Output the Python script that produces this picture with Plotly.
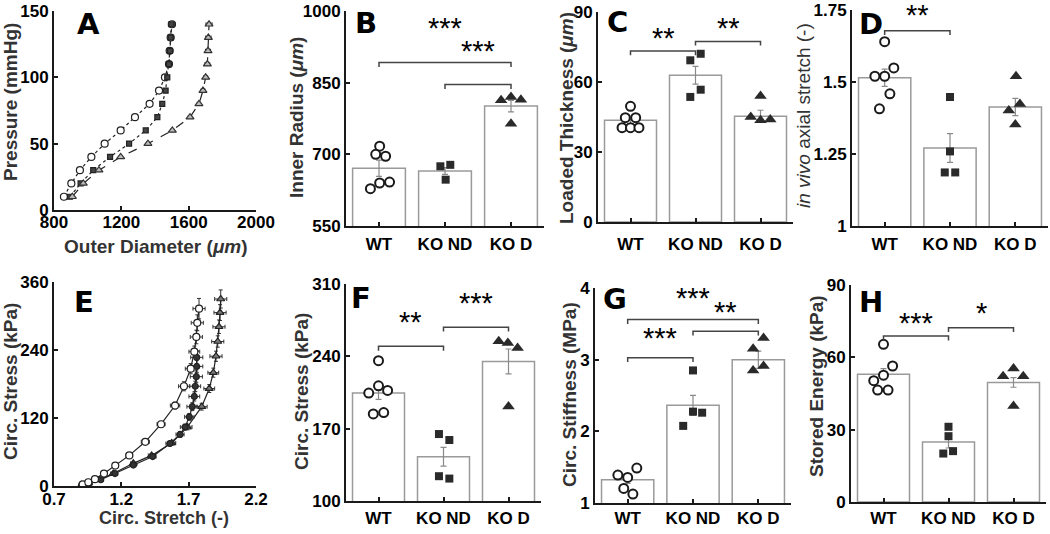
import plotly.graph_objects as go

W, H = 1050, 534
FONT = "Liberation Sans, Arial, sans-serif"

# ---------------- Panel A : pressure vs outer diameter ----------------
pressure = [10, 20, 30, 40, 50, 60, 70, 80, 90, 100, 110, 120, 130, 140]
od_wt = [859, 903, 954, 1022, 1101, 1196, 1281, 1368, 1424, 1459, 1483, 1487, 1493, 1501]
od_kond = [895, 958, 1033, 1133, 1246, 1345, 1414, 1443, 1463, 1473, 1483, 1489, 1493, 1497]
od_kod = [909, 974, 1067, 1196, 1358, 1503, 1608, 1661, 1685, 1701, 1711, 1715, 1717, 1721]
od_err_wt = [5, 5, 6, 6, 8, 8, 10, 10, 12, 15, 15, 18, 18, 20]
od_err_kond = [4, 4, 5, 5, 6, 8, 8, 10, 10, 12, 14, 15, 16, 18]
od_err_kod = [4, 5, 5, 6, 8, 8, 10, 10, 12, 12, 14, 15, 16, 18]

# ---------------- Panel E : circ. stress vs circ. stretch ----------------
stretch_wt = [0.913, 0.955, 1.004, 1.071, 1.155, 1.259, 1.378, 1.495, 1.599, 1.665, 1.715, 1.742, 1.757, 1.764, 1.777]
stress_wt = [3, 6.6, 12, 22, 36, 54, 78, 109, 142, 176, 207, 237, 263, 288, 313]
stretch_err_wt = [0.01, 0.01, 0.015, 0.02, 0.02, 0.025, 0.03, 0.03, 0.035, 0.04, 0.04, 0.04, 0.045, 0.045, 0.045]
stress_err_wt = [1, 1, 1, 2, 2, 3, 4, 5, 6, 8, 9, 10, 12, 14, 18]

stretch_kond = [0.906, 0.962, 1.047, 1.153, 1.289, 1.433, 1.561, 1.636, 1.673, 1.705, 1.727, 1.742, 1.749, 1.757, 1.760, 1.760]
stress_kond = [2, 5, 11, 22, 37, 52, 75, 91, 104, 122, 140, 158, 176, 193, 211, 227]
stretch_err_kond = [0.01, 0.01, 0.015, 0.02, 0.02, 0.025, 0.03, 0.03, 0.035, 0.035, 0.04, 0.04, 0.04, 0.045, 0.045, 0.045]
stress_err_kond = [1, 1, 1, 2, 2, 3, 4, 5, 5, 6, 7, 8, 9, 10, 11, 12]

stretch_kod = [0.906, 0.955, 1.036, 1.140, 1.289, 1.425, 1.574, 1.690, 1.797, 1.853, 1.883, 1.903, 1.916, 1.925, 1.933, 1.938]
stress_kod = [2, 5, 11, 22, 40, 54, 76, 104, 140, 172, 200, 229, 255, 281, 306, 330]
stretch_err_kod = [0.01, 0.01, 0.015, 0.02, 0.02, 0.025, 0.03, 0.035, 0.04, 0.04, 0.04, 0.045, 0.045, 0.045, 0.045, 0.045]
stress_err_kod = [1, 1, 1, 2, 2, 3, 4, 5, 6, 7, 8, 9, 10, 12, 14, 16]

# ---------------- Bar panels ----------------
groups = ["WT", "KO ND", "KO D"]

# B: inner radius
b_mean = [671, 665, 801]
b_se = [17, 7, 12]
b_wt = [717, 700, 696, 628, 640, 642]
b_wt_jit = [0.01, -0.05, 0.10, -0.13, 0.01, 0.16]
b_kond = [675, 678, 647]
b_kond_jit = [-0.07, 0.08, 0.01]
b_kod = [813, 820, 814, 764]
b_kod_jit = [-0.15, 0.0, 0.15, 0.0]
b_brackets = [(1, 3, 892, "***", 977), (2, 3, 846, "***", 928)]

# C: loaded thickness
c_mean = [43.6, 62.9, 45.3]
c_se = [1.4, 3.8, 2.6]
c_wt = [40.4, 40.4, 40.4, 44.7, 44.7, 49.6]
c_wt_jit = [-0.13, 0.0, 0.13, -0.08, 0.08, 0.0]
c_kond = [69.3, 72.1, 53.6, 56.7]
c_kond_jit = [-0.08, 0.08, -0.08, 0.08]
c_kod = [54.0, 45.0, 43.6, 43.9]
c_kod_jit = [0.0, -0.15, 0.0, 0.15]
c_brackets = [(1, 2, 73.3, "**", 81.4), (2, 3, 77.4, "**", 85.7)]

# D: in vivo axial stretch
d_mean = [1.515, 1.271, 1.413]
d_se = [0.03, 0.05, 0.03]
d_wt = [1.640, 1.549, 1.520, 1.520, 1.459, 1.407]
d_wt_jit = [0.0, 0.14, 0.0, -0.15, 0.08, -0.08]
d_kond = [1.448, 1.259, 1.186, 1.186]
d_kond_jit = [0.0, 0.0, -0.08, 0.08]
d_kod = [1.520, 1.401, 1.424, 1.352]
d_kod_jit = [0.01, -0.1, 0.07, 0.0]
d_brackets = [(1, 2, 1.678, "**", 1.752)]

# F: circ. stress
f_mean = [204.4, 142.8, 235.1]
f_se = [6, 9, 12]
f_wt = [235.8, 211.5, 204.4, 207.0, 184.3, 185.6]
f_wt_jit = [0.0, 0.0, -0.15, 0.14, -0.08, 0.08]
f_kond = [164.8, 159.0, 124.0, 121.7]
f_kond_jit = [-0.07, 0.09, -0.07, 0.09]
f_kod = [254.6, 253.0, 248.0, 191.4]
f_kod_jit = [-0.15, -0.01, 0.14, 0.0]
f_brackets = [(1, 2, 249.7, "**", 278.9), (2, 3, 268.2, "***", 297.7)]

# G: circ. stiffness
g_mean = [1.325, 2.363, 3.0]
g_se = [0.05, 0.14, 0.12]
g_wt = [1.39, 1.357, 1.487, 1.204, 1.125]
g_wt_jit = [-0.15, 0.0, 0.14, -0.06, 0.08]
g_kond = [2.85, 2.275, 2.26, 2.076]
g_kond_jit = [0.0, 0.0, 0.14, -0.15]
g_kod = [3.304, 3.151, 2.91, 2.85]
g_kod_jit = [0.08, -0.08, 0.08, -0.08]
g_brackets = [(1, 2, 3.026, "***", 3.383), (2, 3, 3.397, "**", 3.745), (1, 3, 3.559, "***", 3.944)]

# H: stored energy
h_mean = [53.0, 24.9, 49.6]
h_se = [2.3, 2.5, 2.0]
h_wt = [65.4, 56.4, 52.6, 50.3, 46.4, 46.4]
h_wt_jit = [0.0, 0.14, 0.0, -0.15, -0.09, 0.07]
h_kond = [31.2, 27.3, 20.1, 21.1]
h_kond_jit = [0.0, 0.0, -0.08, 0.07]
h_kod = [55.4, 52.2, 52.2, 39.8]
h_kod_jit = [0.0, -0.16, 0.15, 0.0]
h_brackets = [(1, 2, 68.8, "***", 76.6), (2, 3, 72.3, "*", 81.0)]

# ---------------- layout helpers ----------------
def xd(a, b):
    return [a / W, b / W]


def yd(top, bot):
    return [1 - bot / H, 1 - top / H]


AX = dict(showline=True, linecolor="#1a1a1a", linewidth=2, ticks="inside", ticklen=4,
          tickwidth=1.5, tickcolor="#1a1a1a", showgrid=False, zeroline=False, automargin=False,
          ticklabeloverflow="allow",
          tickfont=dict(family=FONT, size=17, color="black", weight="bold"), fixedrange=True)

fig = go.Figure()
layout = dict(width=W, height=H, margin=dict(l=0, r=0, t=0, b=0, autoexpand=False), plot_bgcolor="white",
              paper_bgcolor="white", showlegend=False, annotations=[])


def axname(i, k):
    return k if i == 1 else f"{k}{i}"


def add_axes(i, xdom, ydom, xrange, yrange, xtickvals, xticktext, ytickvals, yticktext, xstandoff):
    xa = dict(AX, domain=xd(*xdom), range=xrange, anchor=axname(i, "y"),
              tickvals=xtickvals, ticktext=xticktext, ticklabelstandoff=xstandoff)
    ya = dict(AX, domain=yd(*ydom), range=yrange, anchor=axname(i, "x"),
              tickvals=ytickvals, ticktext=yticktext)
    layout["xaxis" if i == 1 else f"xaxis{i}"] = xa
    layout["yaxis" if i == 1 else f"yaxis{i}"] = ya


def text_at(txt, px, py, angle=0, bold=True, size=19, color="#333333"):
    layout["annotations"].append(dict(text=txt, x=px / W, y=1 - py / H, xref="paper", yref="paper",
                                      showarrow=False, xanchor="center", yanchor="middle", textangle=angle,
                                      font=dict(family=FONT, size=size, color=color,
                                                weight="bold" if bold else "normal")))


def letter(txt, px, py):
    layout["annotations"].append(dict(text=txt, x=px / W, y=1 - py / H, xref="paper", yref="paper",
                                      showarrow=False, xanchor="center", yanchor="middle",
                                      font=dict(family="DejaVu Sans", size=29, color="black", weight="bold")))


# ---------------- Panel A ----------------
add_axes(1, (54, 256), (11, 210), [800, 2000], [0, 150],
         [800, 1200, 1600, 2000], ["800", "1200", "1600", "2000"], [0, 50, 100, 150], ["0", "50", "100", "150"], -4)
for xs, err, sym, col, fill, dash, sz in [
        (od_wt, od_err_wt, "circle", "#222", "white", "dot", 7),
        (od_kond, od_err_kond, "square", "#222", "#444", "dot", 5),
        (od_kod, od_err_kod, "triangle-up", "#333", "#bbbbbb", "dash", 7)]:
    fig.add_trace(go.Scatter(x=xs, y=pressure, mode="lines+markers", xaxis="x", yaxis="y",
                             line=dict(color="#222", width=1.2, dash=dash),
                             marker=dict(symbol=sym, size=sz, color=fill, line=dict(color=col, width=1.2)),
                             error_x=dict(type="data", array=err, color="#333", thickness=1, width=2)))
letter("A", 88, 24)
text_at("Pressure (mmHg)", 10, 102, angle=-90)
text_at("Outer Diameter (<i>μm</i>)", 156, 246)

# ---------------- Panel E ----------------
add_axes(5, (54, 256), (282, 486), [0.7, 2.2], [0, 360],
         [0.7, 1.2, 1.7, 2.2], ["0.7", "1.2", "1.7", "2.2"], [0, 120, 240, 360], ["0", "120", "240", "360"], -3)
for xs, ys, ex, ey, sym, fill, sz in [
        (stretch_kod, stress_kod, stretch_err_kod, stress_err_kod, "triangle-up", "#777777", 7),
        (stretch_kond, stress_kond, stretch_err_kond, stress_err_kond, "circle", "#333333", 6),
        (stretch_wt, stress_wt, stretch_err_wt, stress_err_wt, "circle", "white", 7)]:
    fig.add_trace(go.Scatter(x=xs, y=ys, mode="lines+markers", xaxis="x5", yaxis="y5",
                             line=dict(color="#222", width=1.2),
                             marker=dict(symbol=sym, size=sz, color=fill, line=dict(color="#222", width=1.2)),
                             error_x=dict(type="data", array=ex, color="#333", thickness=1, width=2),
                             error_y=dict(type="data", array=ey, color="#333", thickness=1, width=2)))
letter("E", 84, 302)
text_at("Circ. Stress (kPa)", 10, 382, angle=-90)
text_at("Circ. Stretch (-)", 164, 518, size=18)

# ---------------- Bar panels ----------------
bar_panels = [
    # idx, letter, letter pos, xdom, ydom, yrange, ytitle, title pos, ytickvals, yticktext, mean, se, pts, brackets, bold, standoff
    (2, "B", (366, 23), (346, 544), (11, 226), [550, 1000], "Inner Radius (<i>μm</i>)", (297, 118),
     [550, 700, 850, 1000], ["550", "700", "850", "1000"], b_mean, b_se,
     [(b_wt, b_wt_jit), (b_kond, b_kond_jit), (b_kod, b_kod_jit)], b_brackets, True, 2),
    (3, "C", (617, 22), (598, 793), (12, 222), [0, 90], "Loaded Thickness (<i>μm</i>)", (567, 118),
     [0, 30, 60, 90], ["0", "30", "60", "90"], c_mean, c_se,
     [(c_wt, c_wt_jit), (c_kond, c_kond_jit), (c_kod, c_kod_jit)], c_brackets, True, 6),
    (4, "D", (871, 24), (852, 1048), (10, 226), [1, 1.75], "<i>in vivo</i> axial stretch (-)", (804, 116),
     [1, 1.25, 1.5, 1.75], ["1", "1.25", "1.5", "1.75"], d_mean, d_se,
     [(d_wt, d_wt_jit), (d_kond, d_kond_jit), (d_kod, d_kod_jit)], d_brackets, False, 2),
    (6, "F", (361, 298), (346, 541), (284, 501), [100, 310], "Circ. Stress (kPa)", (301, 392),
     [100, 170, 240, 310], ["100", "170", "240", "310"], f_mean, f_se,
     [(f_wt, f_wt_jit), (f_kond, f_kond_jit), (f_kod, f_kod_jit)], f_brackets, True, 1),
    (7, "G", (615, 299), (595, 791), (288, 503), [1, 4], "Circ. Stiffness (MPa)", (569, 395),
     [1, 2, 3, 4], ["1", "2", "3", "4"], g_mean, g_se,
     [(g_wt, g_wt_jit), (g_kond, g_kond_jit), (g_kod, g_kod_jit)], g_brackets, True, -1),
    (8, "H", (871, 302), (851, 1046), (285, 502), [0, 90], "Stored Energy (kPa)", (816, 386),
     [0, 30, 60, 90], ["0", "30", "60", "90"], h_mean, h_se,
     [(h_wt, h_wt_jit), (h_kond, h_kond_jit), (h_kod, h_kod_jit)], h_brackets, True, 0),
]

point_styles = [
    dict(symbol="circle", size=9, color="white", line=dict(color="#1a1a1a", width=2)),
    dict(symbol="square", size=8, color="#2a2a2a", line=dict(color="#2a2a2a", width=0)),
    dict(symbol="triangle-up", size=11, color="#2a2a2a", line=dict(color="#2a2a2a", width=0)),
]

for (i, let, lpos, xdom, ydom, yr, ytitle, tpos, ytv, ytt, mean, se, pts, brackets, bold, so) in bar_panels:
    xa, ya = axname(i, "x"), axname(i, "y")
    add_axes(i, xdom, ydom, [0.5, 3.5], yr, [1, 2, 3], groups, ytv, ytt, so)
    fig.add_trace(go.Bar(x=[1, 2, 3], y=mean, width=0.8, xaxis=xa, yaxis=ya,
                         marker=dict(color="white", line=dict(color="#9a9a9a", width=1.5)),
                         error_y=dict(type="data", array=se, color="#8a8a8a", thickness=1.2, width=3)))
    for g, ((vals, jit), st) in enumerate(zip(pts, point_styles)):
        fig.add_trace(go.Scatter(x=[g + 1 + j for j in jit], y=vals, mode="markers", xaxis=xa, yaxis=ya,
                                 marker=st, cliponaxis=False))
    span = yr[1] - yr[0]
    drop = span * 0.02
    bx, by = [], []
    for (a, b, h, stars, sy) in brackets:
        bx += [a, a, b, b, None]
        by += [h - drop, h, h, h - drop, None]
        layout["annotations"].append(dict(text=stars, x=(a + b) / 2, y=(sy - yr[0]) / span,
                                          xref=xa, yref=f"{ya} domain",
                                          showarrow=False, xanchor="center", yanchor="middle", yshift=-6,
                                          font=dict(family=FONT, size=29, color="black")))
    fig.add_trace(go.Scatter(x=bx, y=by, mode="lines", xaxis=xa, yaxis=ya, cliponaxis=False,
                             line=dict(color="#444", width=1.5)))
    letter(let, *lpos)
    text_at(ytitle, tpos[0], tpos[1], angle=-90, bold=bold)

fig.update_layout(**layout)
fig.write_html("out.html", config={"displayModeBar": False},
               post_script="document.body.style.margin='0';document.body.style.overflow='hidden';")
